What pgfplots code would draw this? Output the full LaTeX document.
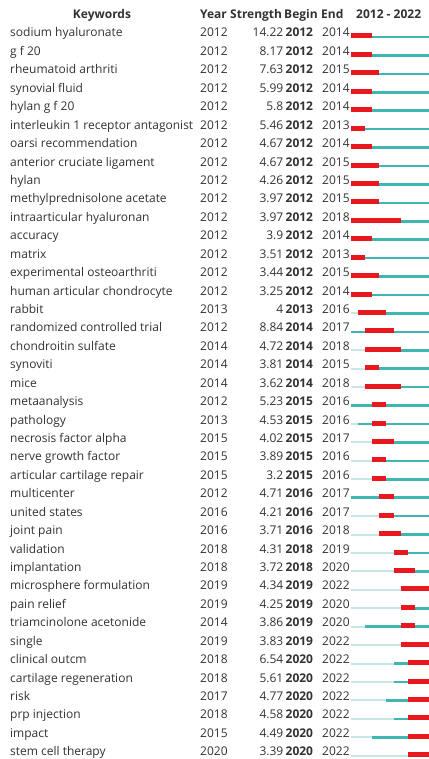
\documentclass[border=0pt]{standalone}
\usepackage{pgfplots}
\pgfplotsset{compat=1.18}
\usepackage{fontspec}
\setmainfont{Open Sans}

\definecolor{burst}{RGB}{232,24,30}
\definecolor{active}{RGB}{64,182,178}
\definecolor{dormant}{RGB}{200,230,230}
\definecolor{txt}{RGB}{50,50,50}

% One keyword row: #1 row, #2 keyword, #3 first year, #4 strength, #5 begin, #6 end
\newcommand\burstrow[6]{%
  \addplot[dormant, line width=2bp] coordinates {(2012,#1) (#3,#1)};
  \addplot[active, line width=2.6bp] coordinates {(#3,#1) (2023,#1)};
  \addplot[burst, line width=5bp, yshift=1bp]
    table[x expr=\thisrow{yr}+\thisrow{add}, y=row, row sep=\\]
    {yr add row\\ #5 0 #1\\ #6 1 #1\\};
  \node[anchor=base west, xshift=-341bp] at (axis cs:2012,#1) {#2};
  \node[anchor=base west, xshift=-151bp] at (axis cs:2012,#1) {#3};
  \node[anchor=base east, xshift=-67.5bp] at (axis cs:2012,#1) {#4};
  \node[anchor=base west, xshift=-65.5bp] at (axis cs:2012,#1) {\bfseries #5};
  \node[anchor=base west, xshift=-29bp] at (axis cs:2012,#1) {#6};
}

\begin{document}
\begin{tikzpicture}[every node/.style={inner sep=0pt, text=txt,
    font=\fontsize{12bp}{14bp}\selectfont}]
\path[use as bounding box] (-351bp,0) rectangle (78bp,759bp);
\begin{axis}[
  scale only axis, width=78bp, height=759bp,
  xmin=2012, xmax=2023,
  ymin=-1.0076, ymax=40.175, y dir=reverse,
  hide axis, clip=false,
]
% header
\node[anchor=base, xshift=-249bp] at (axis cs:2012,0) {\bfseries Keywords};
\node[anchor=base west, xshift=-151bp] at (axis cs:2012,0) {\bfseries Year};
\node[anchor=base west, xshift=-121bp] at (axis cs:2012,0) {\bfseries Strength};
\node[anchor=base west, xshift=-67bp] at (axis cs:2012,0) {\bfseries Begin};
\node[anchor=base west, xshift=-30bp] at (axis cs:2012,0) {\bfseries End};
\node[anchor=base west, xshift=5bp] at (axis cs:2012,0) {\bfseries 2012 - 2022};

\burstrow{1}{sodium hyaluronate}{2012}{14.22}{2012}{2014}
\burstrow{2}{g f 20}{2012}{8.17}{2012}{2014}
\burstrow{3}{rheumatoid arthriti}{2012}{7.63}{2012}{2015}
\burstrow{4}{synovial fluid}{2012}{5.99}{2012}{2014}
\burstrow{5}{hylan g f 20}{2012}{5.8}{2012}{2014}
\burstrow{6}{interleukin 1 receptor antagonist}{2012}{5.46}{2012}{2013}
\burstrow{7}{oarsi recommendation}{2012}{4.67}{2012}{2014}
\burstrow{8}{anterior cruciate ligament}{2012}{4.67}{2012}{2015}
\burstrow{9}{hylan}{2012}{4.26}{2012}{2015}
\burstrow{10}{methylprednisolone acetate}{2012}{3.97}{2012}{2015}
\burstrow{11}{intraarticular hyaluronan}{2012}{3.97}{2012}{2018}
\burstrow{12}{accuracy}{2012}{3.9}{2012}{2014}
\burstrow{13}{matrix}{2012}{3.51}{2012}{2013}
\burstrow{14}{experimental osteoarthriti}{2012}{3.44}{2012}{2015}
\burstrow{15}{human articular chondrocyte}{2012}{3.25}{2012}{2014}
\burstrow{16}{rabbit}{2013}{4}{2013}{2016}
\burstrow{17}{randomized controlled trial}{2012}{8.84}{2014}{2017}
\burstrow{18}{chondroitin sulfate}{2014}{4.72}{2014}{2018}
\burstrow{19}{synoviti}{2014}{3.81}{2014}{2015}
\burstrow{20}{mice}{2014}{3.62}{2014}{2018}
\burstrow{21}{metaanalysis}{2012}{5.23}{2015}{2016}
\burstrow{22}{pathology}{2013}{4.53}{2015}{2016}
\burstrow{23}{necrosis factor alpha}{2015}{4.02}{2015}{2017}
\burstrow{24}{nerve growth factor}{2015}{3.89}{2015}{2016}
\burstrow{25}{articular cartilage repair}{2015}{3.2}{2015}{2016}
\burstrow{26}{multicenter}{2012}{4.71}{2016}{2017}
\burstrow{27}{united states}{2016}{4.21}{2016}{2017}
\burstrow{28}{joint pain}{2016}{3.71}{2016}{2018}
\burstrow{29}{validation}{2018}{4.31}{2018}{2019}
\burstrow{30}{implantation}{2018}{3.72}{2018}{2020}
\burstrow{31}{microsphere formulation}{2019}{4.34}{2019}{2022}
\burstrow{32}{pain relief}{2019}{4.25}{2019}{2020}
\burstrow{33}{triamcinolone acetonide}{2014}{3.86}{2019}{2020}
\burstrow{34}{single}{2019}{3.83}{2019}{2022}
\burstrow{35}{clinical outcm}{2018}{6.54}{2020}{2022}
\burstrow{36}{cartilage regeneration}{2018}{5.61}{2020}{2022}
\burstrow{37}{risk}{2017}{4.77}{2020}{2022}
\burstrow{38}{prp injection}{2018}{4.58}{2020}{2022}
\burstrow{39}{impact}{2015}{4.49}{2020}{2022}
\burstrow{40}{stem cell therapy}{2020}{3.39}{2020}{2022}
\end{axis}
\end{tikzpicture}
\end{document}
